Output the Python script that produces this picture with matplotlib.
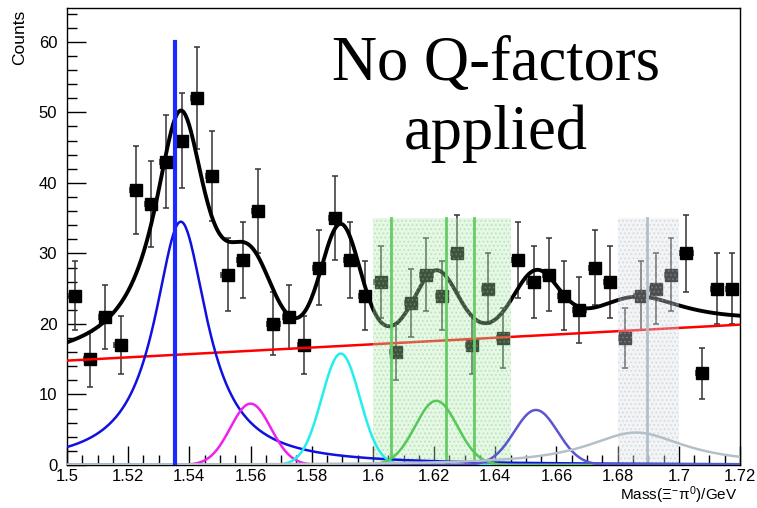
import numpy as np
import matplotlib
matplotlib.use("Agg")
import matplotlib.pyplot as plt
from matplotlib.ticker import MultipleLocator, FixedLocator

plt.rcParams['font.family'] = ['Liberation Sans', 'DejaVu Sans']
plt.rcParams['mathtext.fontset'] = 'custom'
plt.rcParams['mathtext.rm'] = 'Liberation Sans'
plt.rcParams['mathtext.it'] = 'Liberation Sans'
plt.rcParams['hatch.linewidth'] = 0.8

# ---- data ----
bin_lo, bin_w = 1.5, 0.005
counts = [24, 15, 21, 17, 39, 37, 43, 46, 52, 41, 27, 29, 36, 20, 21, 17, 28, 35, 29, 24,
          26, 16, 23, 27, 24, 30, 17, 25, 18, 29, 26, 27, 24, 22, 28, 26, 18, 24, 25, 27,
          30, 13, 25, 25]
x_err = 0.002

# background (linear) endpoints
bg_x = [1.5, 1.72]
bg_y = [14.8, 19.9]

# fit components: centre, amplitude, width, shape, colour
comp_centre = [1.5372, 1.5600, 1.5895, 1.6207, 1.6533, 1.6860]
comp_amp    = [34.5, 8.7, 15.8, 9.1, 7.8, 4.6]
comp_width  = [0.0105, 0.0066, 0.0062, 0.0069, 0.0071, 0.0197]
comp_shape  = ['bw', 'gaus', 'gaus', 'gaus', 'gaus', 'bw']
comp_color  = ['#1010e0', '#ee22ee', '#22eeee', '#55c855', '#5a55d0', '#b4c0c8']

# markers
blue_line_x, blue_line_top = 1.5353, 60
green_box = (1.600, 1.645, 35)
green_lines = [1.606, 1.624, 1.633]
gray_box = (1.680, 1.700, 35)
gray_lines = [1.6895]

xtick_vals = [1.5, 1.52, 1.54, 1.56, 1.58, 1.6, 1.62, 1.64, 1.66, 1.68, 1.7, 1.72]
xtick_labels = ['1.5', '1.52', '1.54', '1.56', '1.58', '1.6', '1.62', '1.64', '1.66', '1.68', '1.7', '1.72']
ytick_vals = [0, 10, 20, 30, 40, 50, 60]

title_lines = ['No Q-factors', 'applied']

# ---- figure ----
fig = plt.figure(figsize=(7.57, 5.08), dpi=100)
ax = fig.add_axes([67/757, 1-465/508, (740-67)/757, (465-8)/508])
ax.set_xlim(1.5, 1.72)
ax.set_ylim(0, 64.8)

centres = bin_lo + bin_w*(np.arange(len(counts)) + 0.5)
cnt = np.array(counts, float)
ax.errorbar(centres, cnt, yerr=np.sqrt(cnt), xerr=x_err, fmt='s', color='black',
            ecolor='#333333', elinewidth=1.1, capsize=2.5, capthick=1.1,
            markersize=8, zorder=3)

xs = np.linspace(1.5, 1.72, 800)

def shape(x, c, a, w, s):
    if s == 'bw':
        return a / (1 + ((x - c)/w)**2)
    return a*np.exp(-0.5*((x - c)/w)**2)

bg = np.interp(xs, bg_x, bg_y)
comps = [shape(xs, c, a, w, s) for c, a, w, s in zip(comp_centre, comp_amp, comp_width, comp_shape)]
total = bg + np.sum(comps, axis=0)

ax.plot(xs, total, color='black', lw=2.8, zorder=4)
ax.plot(bg_x, bg_y, color='#ff0000', lw=1.8, zorder=4)

# shaded regions
for (x0, x1, top), col, hcol in [(green_box, '#b8eab8', '#6fcf6f'), (gray_box, '#dce2e7', '#aab6c0')]:
    ax.fill_between([x0, x1], 0, top, facecolor=col, alpha=0.35, hatch='....',
                    edgecolor=hcol, lw=0, zorder=5)
for gx in green_lines:
    ax.plot([gx, gx], [0, green_box[2]], color='#66cc66', lw=2.0, zorder=6)
for gx in gray_lines:
    ax.plot([gx, gx], [0, gray_box[2]], color='#b4c0c8', lw=2.0, zorder=6)

for y, col in zip(comps, comp_color):
    ax.plot(xs, y, color=col, lw=1.8, zorder=7)

ax.plot([blue_line_x, blue_line_x], [0, blue_line_top], color='#1a2aff', lw=3.0, zorder=8)

# axes style
ax.xaxis.set_major_locator(FixedLocator(xtick_vals))
ax.set_xticklabels(xtick_labels)
ax.xaxis.set_minor_locator(MultipleLocator(0.005))
ax.yaxis.set_major_locator(FixedLocator(ytick_vals))
ax.yaxis.set_minor_locator(MultipleLocator(2))
ax.tick_params(which='both', direction='in', top=False, right=False, labelsize=12, width=1.0)
ax.tick_params(which='major', length=14)
ax.tick_params(which='minor', length=7)
ax.tick_params(axis='x', pad=3)
ax.tick_params(axis='y', pad=7)
for sp in ax.spines.values():
    sp.set_linewidth(1.0)

fig.text(20/757, 1-10/508, 'Counts', rotation=90, ha='center', va='top', fontsize=12.5)
fig.text(737/757, 2/508, r'Mass($\Xi^{-}\pi^{0}$)/GeV', ha='right', va='bottom', fontsize=11)

serif = ['Liberation Serif', 'DejaVu Serif']
ax.text(1.6402, 54.6, title_lines[0], ha='center', va='baseline', fontsize=45,
        family=serif, zorder=10)
ax.text(1.6402, 44.8, title_lines[1], ha='center', va='baseline', fontsize=45,
        family=serif, zorder=10)

fig.savefig('out.png', dpi=100)
